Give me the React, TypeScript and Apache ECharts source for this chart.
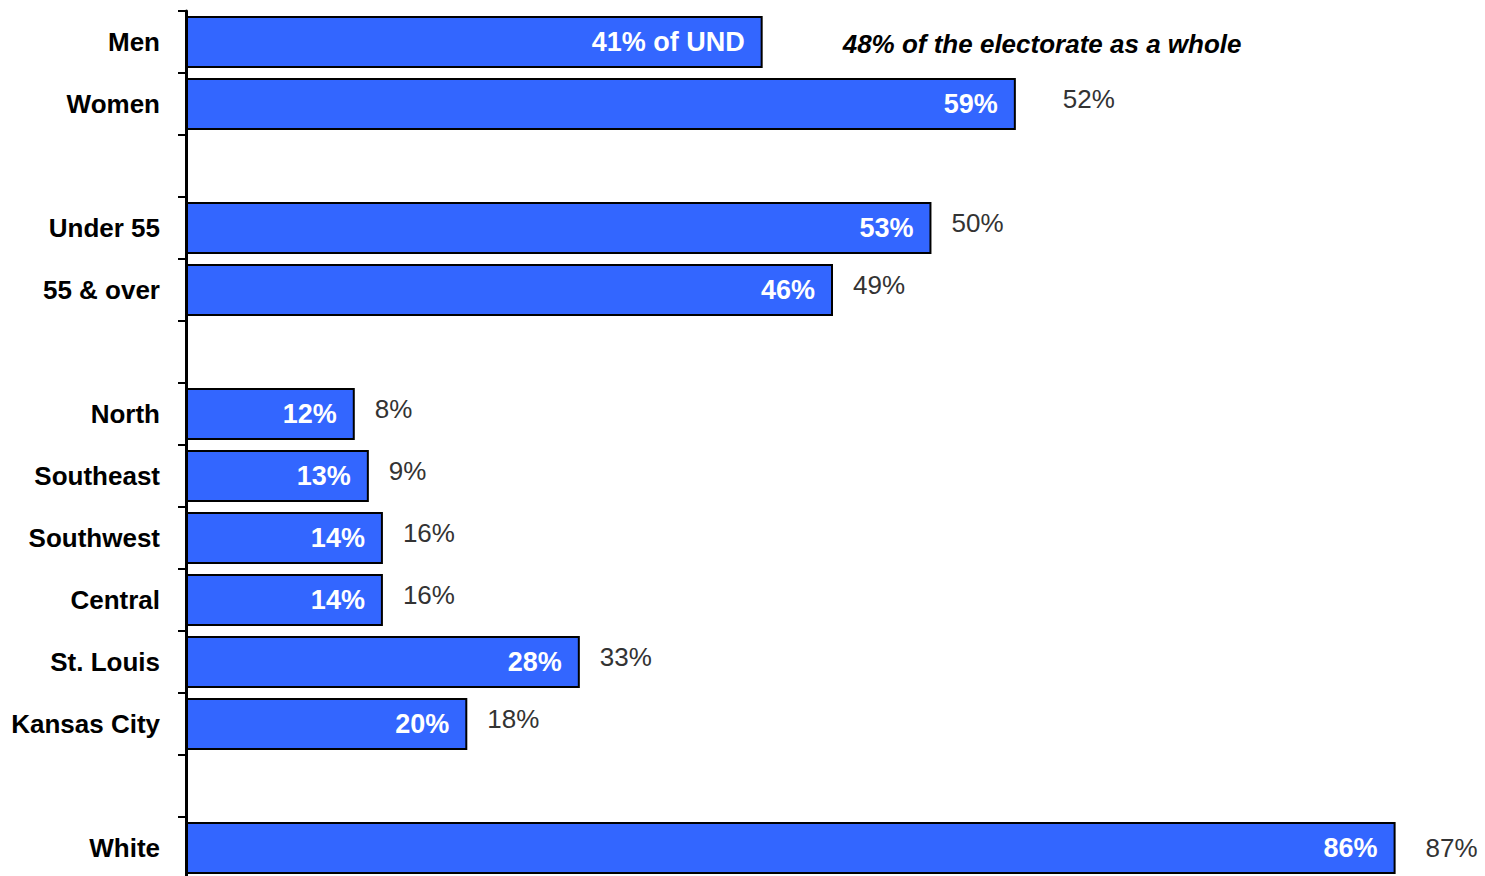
import React, { useEffect, useRef } from "react";
import * as echarts from "echarts";

const categories = [
  "Men",
  "Women",
  " ",
  "Under 55",
  "55 & over",
  "  ",
  "North",
  "Southeast",
  "Southwest",
  "Central",
  "St. Louis",
  "Kansas City",
  "   ",
  "White",
];
// share of undecided voters (%)
const undShare = [41, 59, null, 53, 46, null, 12, 13, 14, 14, 28, 20, null, 86];
// share of the electorate as a whole (%)
const electorateShare = [48, 52, null, 50, 49, null, 8, 9, 16, 16, 33, 18, null, 87];

const FONT = "'Liberation Sans', Arial, Helvetica, sans-serif";

export default function App() {
  const ref = useRef<HTMLDivElement>(null);

  useEffect(() => {
    if (!ref.current) return;
    const chart = echarts.init(ref.current, null, { renderer: "svg" });

    const outerData = undShare.map((v, i) => {
      if (v === null) return null;
      if (i === 0) {
        return {
          value: v,
          label: {
            distance: 80,
            offset: [0, 2],
            fontStyle: "italic",
            fontWeight: "bold",
            color: "#000",
          },
        };
      }
      if (categories[i] === "Women") {
        return { value: v, label: { distance: 47 } };
      }
      if (categories[i] === "White") {
        return { value: v, label: { distance: 30, offset: [0, 0] } };
      }
      return v;
    });

    chart.setOption({
      animation: false,
      grid: { left: 186, right: 5, top: 11, bottom: 0, containLabel: false },
      xAxis: {
        type: "value",
        min: 0,
        max: 92,
        show: false,
      },
      yAxis: {
        type: "category",
        inverse: true,
        data: categories,
        axisLine: { show: true, lineStyle: { color: "#000", width: 3 } },
        axisTick: { show: true, length: 8, lineStyle: { color: "#000", width: 2 } },
        axisLabel: {
          margin: 26,
          color: "#000",
          fontSize: 26,
          fontWeight: "bold",
          fontFamily: FONT,
        },
        splitLine: { show: false },
      },
      series: [
        {
          type: "bar",
          data: undShare,
          barWidth: 52,
          z: 3,
          itemStyle: { color: "#3366FF", borderColor: "#000", borderWidth: 2 },
          label: {
            show: true,
            position: "insideRight",
            distance: 18,
            color: "#fff",
            fontSize: 27,
            fontWeight: "bold",
            fontFamily: FONT,
            formatter: (p: any) =>
              p.dataIndex === 0 ? `${p.value}% of UND` : `${p.value}%`,
          },
        },
        {
          type: "bar",
          data: outerData,
          barWidth: 52,
          barGap: "-100%",
          silent: true,
          z: 1,
          itemStyle: { color: "rgba(0,0,0,0)" },
          label: {
            show: true,
            position: "right",
            distance: 20,
            offset: [0, -5],
            color: "#333",
            fontSize: 26,
            fontFamily: FONT,
            formatter: (p: any) => {
              const e = electorateShare[p.dataIndex];
              if (e === null) return "";
              return p.dataIndex === 0
                ? `${e}% of the electorate as a whole`
                : `${e}%`;
            },
          },
        },
      ],
    });

    return () => chart.dispose();
  }, []);

  return (
    <div
      ref={ref}
      style={{
        position: "fixed",
        left: 0,
        top: 0,
        width: 1485,
        height: 879,
        background: "#fff",
      }}
    />
  );
}
